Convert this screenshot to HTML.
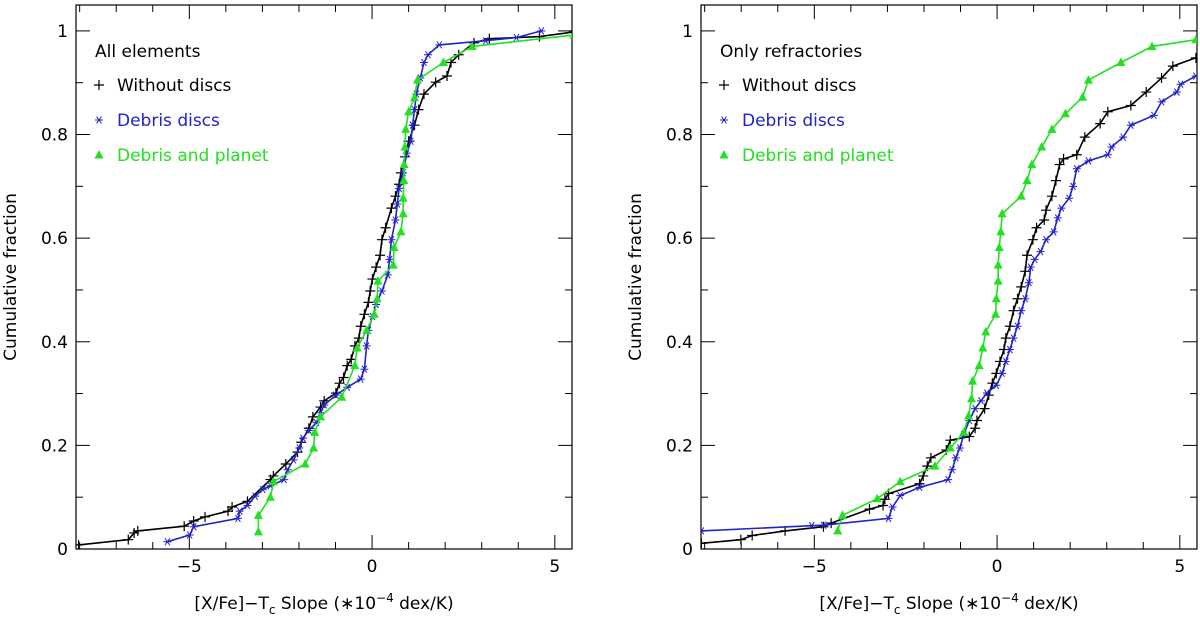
<!DOCTYPE html>
<html><head><meta charset="utf-8"><style>
html,body{margin:0;padding:0;background:#fff}
svg{display:block}
text{font-family:"DejaVu Sans","Liberation Sans",sans-serif;font-size:17px}
</style></head><body>
<svg id="chart" width="1200" height="617" viewBox="0 0 1200 617" xmlns="http://www.w3.org/2000/svg"></svg>
<script>
// ---- data ----
const xTicks=[-5,0,5];
const yTicks=[0,0.2,0.4,0.6,0.8,1];
const yTickLabels=["0","0.2","0.4","0.6","0.8","1"];
const panelTitles=["All elements","Only refractories"];
const seriesNames=["Without discs","Debris discs","Debris and planet"];

const L_black_x=[-8.03,-6.67,-6.51,-6.41,-5.14,-4.88,-4.57,-3.94,-3.83,-3.41,-2.78,-2.70,-2.36,-2.04,-1.94,-1.73,-1.62,-1.41,-1.31,-0.99,-0.89,-0.78,-0.68,-0.57,-0.47,-0.36,-0.31,-0.21,-0.10,-0.05,0.01,0.11,0.22,0.27,0.37,0.53,0.64,0.74,0.79,0.90,1.00,1.16,1.27,1.42,1.74,2.05,2.16,2.37,2.79,3.21,4.58,5.52];
const L_black_y=[0.008,0.018,0.031,0.035,0.044,0.054,0.062,0.073,0.081,0.092,0.134,0.141,0.164,0.187,0.206,0.233,0.255,0.274,0.286,0.301,0.320,0.331,0.354,0.366,0.392,0.407,0.430,0.453,0.476,0.498,0.521,0.544,0.567,0.597,0.620,0.658,0.681,0.704,0.726,0.757,0.787,0.818,0.848,0.878,0.901,0.913,0.939,0.954,0.977,0.985,0.989,0.998];
const L_blue_x=[-5.60,-4.99,-4.88,-3.67,-3.62,-3.41,-3.20,-2.99,-2.78,-2.41,-2.31,-2.15,-1.99,-1.89,-1.73,-1.52,-1.41,-1.31,-0.99,-0.68,-0.31,-0.21,-0.15,-0.10,0.01,0.11,0.27,0.43,0.48,0.53,0.64,0.69,0.74,0.85,0.95,1.06,1.11,1.16,1.21,1.32,1.42,1.53,1.84,3.11,3.95,4.63];
const L_blue_y=[0.014,0.027,0.043,0.059,0.073,0.084,0.102,0.115,0.122,0.134,0.153,0.172,0.195,0.214,0.229,0.244,0.263,0.278,0.297,0.312,0.328,0.347,0.392,0.422,0.449,0.472,0.498,0.529,0.559,0.597,0.635,0.666,0.696,0.726,0.764,0.787,0.818,0.848,0.878,0.909,0.939,0.954,0.973,0.981,0.987,1.0];
const L_green_x=[-3.11,-3.11,-2.78,-2.70,-1.83,-1.60,-1.57,-1.41,-0.83,-0.47,-0.41,-0.15,0.06,0.14,0.16,0.58,0.60,0.79,0.85,0.85,0.87,0.88,0.90,0.92,1.00,1.16,1.24,1.95,2.74,5.52];
const L_green_y=[0.033,0.065,0.100,0.130,0.164,0.195,0.225,0.255,0.293,0.354,0.388,0.422,0.453,0.483,0.517,0.548,0.582,0.612,0.647,0.677,0.711,0.742,0.776,0.810,0.844,0.871,0.905,0.939,0.970,0.992];

const R_black_x=[-8.09,-7.01,-6.70,-5.80,-4.75,-4.54,-3.49,-3.12,-3.07,-2.97,-2.12,-2.02,-1.91,-1.81,-1.39,-1.28,-0.76,-0.60,-0.55,-0.34,-0.23,-0.13,-0.02,0.08,0.19,0.24,0.35,0.45,0.56,0.66,0.77,0.82,0.98,1.08,1.29,1.34,1.50,1.61,1.71,1.82,2.18,2.40,2.82,3.03,3.66,4.08,4.50,4.81,5.44];
const R_black_y=[0.011,0.018,0.026,0.035,0.043,0.050,0.077,0.084,0.096,0.107,0.126,0.141,0.160,0.176,0.191,0.210,0.217,0.233,0.248,0.271,0.297,0.320,0.339,0.362,0.385,0.407,0.430,0.460,0.483,0.506,0.536,0.567,0.597,0.620,0.635,0.654,0.681,0.711,0.742,0.753,0.761,0.795,0.821,0.844,0.856,0.882,0.909,0.932,0.948];
const R_blue_x=[-8.09,-5.07,-4.75,-2.97,-2.86,-2.65,-2.12,-1.34,-1.23,-1.13,-1.02,-0.91,-0.76,-0.60,-0.44,-0.28,-0.02,0.14,0.24,0.35,0.45,0.56,0.66,0.77,0.87,0.92,1.03,1.19,1.34,1.55,1.66,1.76,1.97,2.08,2.18,2.50,3.03,3.13,3.45,3.66,4.29,4.50,4.92,5.02,5.44];
const R_blue_y=[0.035,0.045,0.046,0.059,0.081,0.103,0.119,0.134,0.153,0.176,0.195,0.221,0.248,0.271,0.286,0.301,0.316,0.339,0.362,0.385,0.407,0.430,0.460,0.483,0.514,0.544,0.559,0.574,0.597,0.612,0.639,0.658,0.677,0.700,0.734,0.749,0.761,0.776,0.795,0.818,0.837,0.863,0.882,0.897,0.913];
const R_green_x=[-4.36,-4.23,-3.28,-2.65,-1.70,-1.28,-0.91,-0.78,-0.70,-0.67,-0.49,-0.39,-0.31,-0.04,-0.02,0.03,0.03,0.06,0.10,0.14,0.66,0.82,0.95,1.22,1.50,1.87,2.34,2.50,3.39,4.24,5.44];
const R_green_y=[0.035,0.065,0.097,0.130,0.160,0.195,0.225,0.257,0.290,0.324,0.354,0.388,0.419,0.453,0.483,0.517,0.548,0.582,0.612,0.647,0.681,0.711,0.742,0.776,0.810,0.840,0.872,0.905,0.939,0.970,0.983];

// ---- rendering ----
const NS="http://www.w3.org/2000/svg";
const svg=document.getElementById('chart');
const XMIN=-8.1,XMAX=5.47,YMIN=0,YMAX=1.05;
const COLORS=["#000000","#2222cc","#22e022"];
function mk(tag,attrs,parent){const e=document.createElementNS(NS,tag);for(const k in attrs)e.setAttribute(k,attrs[k]);(parent||svg).appendChild(e);return e;}

function panel(idx,left,right,top,bottom,series){
  const sx=v=>left+(v-XMIN)/(XMAX-XMIN)*(right-left);
  const sy=v=>bottom-(v-YMIN)/(YMAX-YMIN)*(bottom-top);
  const g=mk('g',{});
  
  
  const cp=mk('clipPath',{id:'clip'+idx},g);
  mk('rect',{x:left,y:top,width:right-left,height:bottom-top},cp);
  const frame=mk('rect',{x:left,y:top,width:right-left,height:bottom-top,fill:'none',stroke:'#000','stroke-width':1.2},g);
  
  
  // ticks
  for(let v=-8;v<=5;v++){
    const maj=(v%5===0), len=maj?14:7, x=sx(v);
    mk('line',{x1:x,y1:bottom,x2:x,y2:bottom-len,stroke:'#000','stroke-width':1},g);
    mk('line',{x1:x,y1:top,x2:x,y2:top+len,stroke:'#000','stroke-width':1},g);
  }
  for(let i=0;i<=10;i++){
    const v=i/10, maj=(i%2===0), len=maj?14:7, y=sy(v);
    mk('line',{x1:left,y1:y,x2:left+len,y2:y,stroke:'#000','stroke-width':1},g);
    mk('line',{x1:right,y1:y,x2:right-len,y2:y,stroke:'#000','stroke-width':1},g);
  }
  xTicks.forEach(v=>{
    const t=mk('text',{x:sx(v),y:572,'text-anchor':'middle',fill:'#000'},g);
    t.textContent=(v<0?'\u2212'+(-v):String(v));
    
    
  });
  yTicks.forEach((v,i)=>{
    const t=mk('text',{x:left-8,y:sy(v)+6,'text-anchor':'end',fill:'#000'},g);
    t.textContent=yTickLabels[i];
    
    
  });
  const xt=mk('text',{x:(left+right)/2,y:609,'text-anchor':'middle',fill:'#000'},g);
  xt.innerHTML='[X/Fe]\u2212T<tspan dy="5" font-size="12">c</tspan><tspan dy="-5"> Slope (\u221710</tspan><tspan dy="-7" font-size="12">\u22124</tspan><tspan dy="7"> dex/K)</tspan>';
  
  
  const yx=left-60, yc=(top+bottom)/2;
  const yt=mk('text',{x:yx,y:yc,'text-anchor':'middle',fill:'#000',transform:`rotate(-90 ${yx} ${yc})`},g);
  yt.textContent='Cumulative fraction';
  
  
  // series
  const data=mk('g',{'clip-path':`url(#clip${idx})`},g);
  series.forEach((s,si)=>{
    const c=COLORS[si];
    const sg=mk('g',{},data);
    
    
    const pts=s[0].map((x,i)=>sx(x).toFixed(1)+','+sy(s[1][i]).toFixed(1)).join(' ');
    mk('polyline',{points:pts,fill:'none',stroke:c,'stroke-width':1.6},sg);
    s[0].forEach((xv,i)=>{
      const px=sx(xv), py=sy(s[1][i]);
      if(si===0){
        mk('path',{d:`M${px-5},${py}H${px+5}M${px},${py-5}V${py+5}`,stroke:c,'stroke-width':1.2},sg);
      }else if(si===1){
        mk('path',{d:`M${px-4},${py}H${px+4}M${px-2.5},${py-3.5}L${px+2.5},${py+3.5}M${px+2.5},${py-3.5}L${px-2.5},${py+3.5}`,stroke:c,'stroke-width':1},sg);
      }else{
        mk('path',{d:`M${px},${py-5}L${px+4.5},${py+3.5}L${px-4.5},${py+3.5}Z`,fill:c},sg);
      }
    });
  });
  // legend
  const lg=mk('g',{},g);
  
  
  const t0=mk('text',{x:left+19,y:57,fill:'#000'},lg);
  t0.textContent=panelTitles[idx];
  
  
  seriesNames.forEach((n,si)=>{
    const y=91+si*35, c=COLORS[si], px=left+23, py=y-6;
    if(si===0) mk('path',{d:`M${px-5},${py}H${px+5}M${px},${py-5}V${py+5}`,stroke:c,'stroke-width':1.2},lg);
    else if(si===1) mk('path',{d:`M${px-4},${py}H${px+4}M${px-2.5},${py-3.5}L${px+2.5},${py+3.5}M${px+2.5},${py-3.5}L${px-2.5},${py+3.5}`,stroke:c,'stroke-width':1},lg);
    else mk('path',{d:`M${px},${py-5}L${px+4.5},${py+3.5}L${px-4.5},${py+3.5}Z`,fill:c},lg);
    const t=mk('text',{x:left+41,y:y,fill:c},lg);
    t.textContent=n;
    
    
  });
}
panel(0,76,572,5,549,[[L_black_x,L_black_y],[L_blue_x,L_blue_y],[L_green_x,L_green_y]]);
panel(1,701,1197,5,549,[[R_black_x,R_black_y],[R_blue_x,R_blue_y],[R_green_x,R_green_y]]);
</script>
</body></html>
